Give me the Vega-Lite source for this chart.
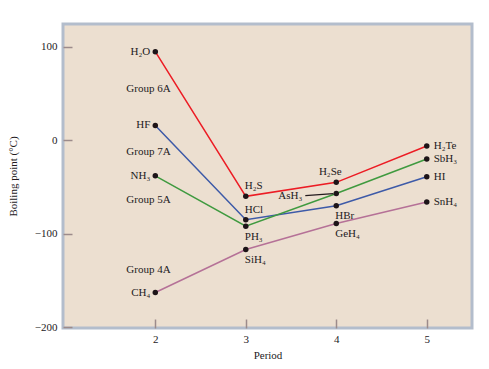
{
  "$schema": "https://vega.github.io/schema/vega-lite/v6.json",
  "width": 409,
  "height": 304,
  "autosize": {"type": "none"},
  "padding": {"left": 63, "top": 24, "right": 17, "bottom": 41},
  "background": "white",
  "config": {
    "view": {"fill": "#ecdfd0", "stroke": "#b3bdcc", "strokeWidth": 3},
    "font": "Liberation Serif",
    "text": {"font": "Liberation Serif", "fontSize": 11, "color": "#231a1d"}
  },
  "datasets": {
    "hydrides": [
      {"compound": "H₂O", "group": "6A", "period": 2, "bp": 95},
      {"compound": "H₂S", "group": "6A", "period": 3, "bp": -60},
      {"compound": "H₂Se", "group": "6A", "period": 4, "bp": -45},
      {"compound": "H₂Te", "group": "6A", "period": 5, "bp": -6},
      {"compound": "HF", "group": "7A", "period": 2, "bp": 16},
      {"compound": "HCl", "group": "7A", "period": 3, "bp": -85},
      {"compound": "HBr", "group": "7A", "period": 4, "bp": -70},
      {"compound": "HI", "group": "7A", "period": 5, "bp": -39},
      {"compound": "NH₃", "group": "5A", "period": 2, "bp": -38},
      {"compound": "PH₃", "group": "5A", "period": 3, "bp": -92},
      {"compound": "AsH₃", "group": "5A", "period": 4, "bp": -57},
      {"compound": "SbH₃", "group": "5A", "period": 5, "bp": -20},
      {"compound": "CH₄", "group": "4A", "period": 2, "bp": -163},
      {"compound": "SiH₄", "group": "4A", "period": 3, "bp": -117},
      {"compound": "GeH₄", "group": "4A", "period": 4, "bp": -89},
      {"compound": "SnH₄", "group": "4A", "period": 5, "bp": -66}
    ],
    "groups": [
      {"label": "Group 6A", "period": 2, "bp": 55},
      {"label": "Group 7A", "period": 2, "bp": -12.5},
      {"label": "Group 5A", "period": 2, "bp": -64},
      {"label": "Group 4A", "period": 2, "bp": -139}
    ]
  },
  "data": {"name": "hydrides"},
  "encoding": {
    "x": {
      "field": "period",
      "type": "quantitative",
      "scale": {"domain": [0.98, 5.5], "nice": false, "zero": false},
      "axis": {
        "values": [2, 3, 4, 5],
        "title": "Period",
        "grid": false,
        "domain": false,
        "tickSize": -9,
        "tickColor": "#9c8b8b",
        "tickWidth": 1.5,
        "labelFont": "Liberation Serif",
        "labelFontSize": 11,
        "labelColor": "#231a1d",
        "labelPadding": 14,
        "titleFont": "Liberation Serif",
        "titleFontSize": 11,
        "titleFontWeight": "normal",
        "titleColor": "#231a1d",
        "titlePadding": 5
      }
    },
    "y": {
      "field": "bp",
      "type": "quantitative",
      "scale": {"domain": [-201, 124.6], "nice": false, "zero": false},
      "axis": {
        "values": [-200, -100, 0, 100],
        "title": "Boiling point (°C)",
        "grid": false,
        "domain": false,
        "tickSize": -9,
        "tickColor": "#9c8b8b",
        "tickWidth": 1.5,
        "labelFont": "Liberation Serif",
        "labelFontSize": 11,
        "labelColor": "#231a1d",
        "labelPadding": 15,
        "titleFont": "Liberation Serif",
        "titleFontSize": 11,
        "titleFontWeight": "normal",
        "titleColor": "#231a1d",
        "titlePadding": 16
      }
    }
  },
  "layer": [
    {
      "mark": {"type": "line", "strokeWidth": 1.5},
      "encoding": {
        "color": {
          "field": "group",
          "type": "nominal",
          "scale": {"domain": ["6A", "7A", "5A", "4A"], "range": ["#ec1c24", "#3d5aa8", "#3f9a3f", "#b57197"]},
          "legend": null
        }
      }
    },
    {
      "transform": [{"filter": {"field": "compound", "equal": "AsH₃"}}],
      "mark": {"type": "rule", "color": "#231a1d", "strokeWidth": 1.2, "xOffset": -31, "x2Offset": -3, "yOffset": 2, "y2Offset": 0},
      "encoding": {"x2": {"field": "period"}, "y2": {"field": "bp"}}
    },
    {
      "mark": {"type": "point", "filled": true, "size": 30, "color": "#1d1418", "opacity": 1}
    },
    {
      "transform": [{"filter": "datum.period == 2"}],
      "mark": {"type": "text", "align": "right", "baseline": "middle", "dx": -5},
      "encoding": {"text": {"field": "compound"}}
    },
    {
      "transform": [{"filter": "datum.period == 5"}],
      "mark": {"type": "text", "align": "left", "baseline": "middle", "dx": 7},
      "encoding": {"text": {"field": "compound"}}
    },
    {
      "transform": [{"filter": {"field": "compound", "oneOf": ["H₂S", "HCl"]}}],
      "mark": {"type": "text", "align": "left", "baseline": "middle", "dx": -1, "dy": -10},
      "encoding": {"text": {"field": "compound"}}
    },
    {
      "transform": [{"filter": {"field": "compound", "oneOf": ["PH₃", "SiH₄", "HBr", "GeH₄"]}}],
      "mark": {"type": "text", "align": "left", "baseline": "middle", "dx": -1, "dy": 10.5},
      "encoding": {"text": {"field": "compound"}}
    },
    {
      "transform": [{"filter": {"field": "compound", "equal": "H₂Se"}}],
      "mark": {"type": "text", "align": "center", "baseline": "middle", "dx": -6, "dy": -10},
      "encoding": {"text": {"field": "compound"}}
    },
    {
      "transform": [{"filter": {"field": "compound", "equal": "AsH₃"}}],
      "mark": {"type": "text", "align": "right", "baseline": "middle", "dx": -34, "dy": 2},
      "encoding": {"text": {"field": "compound"}}
    },
    {
      "data": {"name": "groups"},
      "mark": {"type": "text", "align": "left", "baseline": "middle", "dx": -29},
      "encoding": {"text": {"field": "label"}}
    }
  ]
}
